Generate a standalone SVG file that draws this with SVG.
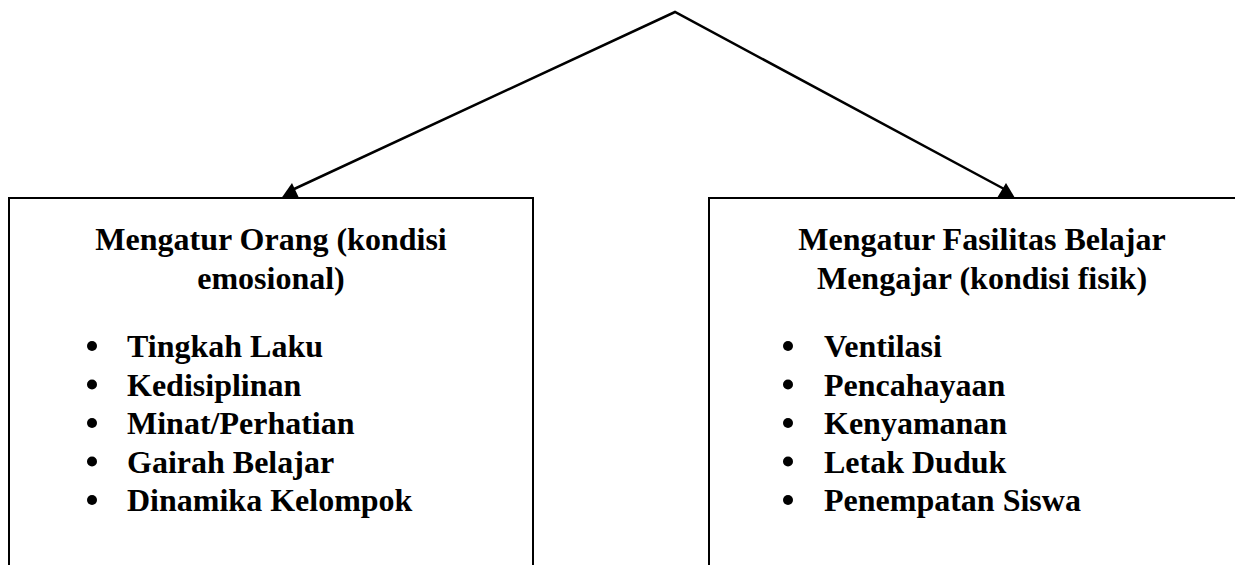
<svg xmlns="http://www.w3.org/2000/svg" width="1235" height="565" viewBox="0 0 1235 565">
<style>
.box{fill:#fff;stroke:#000;stroke-width:2}
.conn{fill:none;stroke:#000;stroke-width:2.5}
.head{fill:#000}
text{font-family:"Liberation Serif","Times New Roman",serif;font-weight:bold;font-size:32px;fill:#000}
.c{text-anchor:middle}
.dot{fill:#000}
</style>
<rect width="1235" height="565" fill="#fff"/>
<g id="connectors">
<polyline class="conn" points="292,190 675,12 1006,190"/>
<polygon class="head" points="292,183 281.5,198 299,198"/>
<polygon class="head" points="1006,183 997,198 1015,198"/>
</g>
<g id="left-node">
<path class="box" d="M9,570 V198 H533 V570"/>
<text class="c" x="271" y="250">Mengatur Orang (kondisi</text>
<text class="c" x="271" y="289">emosional)</text>
<circle class="dot" cx="92" cy="346" r="5"/><text x="127" y="357">Tingkah Laku</text>
<circle class="dot" cx="92" cy="384.5" r="5"/><text x="127" y="395.5">Kedisiplinan</text>
<circle class="dot" cx="92" cy="423" r="5"/><text x="127" y="434">Minat/Perhatian</text>
<circle class="dot" cx="92" cy="461.5" r="5"/><text x="127" y="472.5">Gairah Belajar</text>
<circle class="dot" cx="92" cy="500" r="5"/><text x="127" y="511">Dinamika Kelompok</text>
</g>
<g id="right-node">
<path class="box" d="M709,570 V198 H1245"/>
<text class="c" x="982" y="250">Mengatur Fasilitas Belajar</text>
<text class="c" x="982" y="289">Mengajar (kondisi fisik)</text>
<circle class="dot" cx="788" cy="346" r="5"/><text x="824" y="357">Ventilasi</text>
<circle class="dot" cx="788" cy="384.5" r="5"/><text x="824" y="395.5">Pencahayaan</text>
<circle class="dot" cx="788" cy="423" r="5"/><text x="824" y="434">Kenyamanan</text>
<circle class="dot" cx="788" cy="461.5" r="5"/><text x="824" y="472.5">Letak Duduk</text>
<circle class="dot" cx="788" cy="500" r="5"/><text x="824" y="511">Penempatan Siswa</text>
</g>
</svg>
